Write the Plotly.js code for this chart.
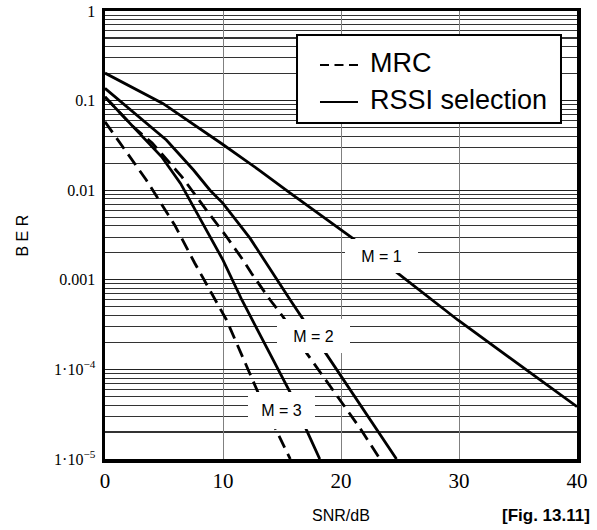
<!DOCTYPE html>
<html>
<head>
<meta charset="utf-8">
<script src="https://cdn.plot.ly/plotly-3.0.1.min.js"></script>
<style>
  html, body { margin: 0; padding: 0; background: #ffffff; }
  #chart { width: 597px; height: 530px; }
</style>
</head>
<body>
<div id="chart"></div>
<script>
// ---- data (SNR in dB, BER) ----
const snrRssi1 = [0, 4.9, 9.9, 13.0, 15.7, 18.2, 21.0, 24.8, 29.9, 40];
const berRssi1 = [0.203, 0.093, 0.033, 0.017, 0.0093, 0.0054, 0.0029, 0.00119, 3.56e-4, 3.84e-5];

const snrRssi2 = [0, 5.2, 7.5, 8.9, 10.0, 12.3, 15.7, 16.7, 18.7, 24.7];
const berRssi2 = [0.137, 0.0363, 0.0168, 0.0100, 0.00714, 0.0029, 5.95e-4, 3.75e-4, 1.52e-4, 1.0e-5];

const snrMrc2 = [0, 2.4, 4.0, 6.5, 8.7, 10.2, 11.7, 12.4, 14.0, 15.1, 17.1, 21.6, 23.3];
const berMrc2 = [0.11, 0.051, 0.0336, 0.0142, 0.00575, 0.00316, 0.00166, 0.00119, 5.95e-4, 3.85e-4, 1.51e-4, 2.22e-5, 1.0e-5];

const snrRssi3 = [0, 2.4, 4.8, 6.4, 10.0, 11.6, 15.8, 17.1, 18.2];
const berRssi3 = [0.11, 0.051, 0.0236, 0.0119, 0.00166, 5.95e-4, 5.2e-5, 2.07e-5, 1.0e-5];

const snrMrc3 = [0, 1.7, 3.5, 5.9, 7.6, 9.6, 10.3, 13.1, 15.7];
const berMrc3 = [0.058, 0.028, 0.013, 0.0041, 0.00154, 5.2e-4, 3.56e-4, 5.05e-5, 1.0e-5];

const legendNames = ['MRC', 'RSSI selection'];
const curveLabels = ['M = 1', 'M = 2', 'M = 3'];
const labelSnr = [23.43, 17.67, 14.96];
const labelLogBer = [-2.734, -3.622, -4.459];

const yTickVals = [1, 0.1, 0.01, 0.001, 1e-4, 1e-5];
const yTickText = ['1', '0.1', '0.01', '0.001', '1\u00b710<sup>\u22124</sup>', '1\u00b710<sup>\u22125</sup>'];
const xTickVals = [0, 10, 20, 30, 40];
const xTitle = 'SNR/dB';
const yTitle = 'B E R';
const figLabel = '[Fig. 13.11]';

// ---- styles ----
const LW = 2.8;
const SANS = 'Liberation Sans, Arial, sans-serif';
const SERIF = 'Liberation Serif, Times New Roman, serif';
const solid = {color: '#000', width: LW, dash: 'solid'};
const dashed = {color: '#000', width: LW, dash: '13px,7px'};

function curve(x, y, line, name) {
  return {x: x, y: y, type: 'scatter', mode: 'lines', line: line, name: name,
          showlegend: false, hoverinfo: 'skip'};
}

const traces = [
  curve(snrRssi1, berRssi1, solid, legendNames[1]),
  curve(snrRssi2, berRssi2, solid, legendNames[1]),
  curve(snrMrc2, berMrc2, dashed, legendNames[0]),
  curve(snrRssi3, berRssi3, solid, legendNames[1]),
  curve(snrMrc3, berMrc3, dashed, legendNames[0])
];

// curve labels (white boxes interrupt grid and curves, as in the reference)
const annotations = curveLabels.map((t, i) => ({
  text: t, x: labelSnr[i], y: labelLogBer[i], xref: 'x', yref: 'y',
  showarrow: false, bgcolor: '#ffffff', borderpad: 0, borderwidth: 0,
  width: i === 2 ? 67 : 73, height: i === 2 ? 37 : 34,
  align: 'center', valign: 'middle',
  font: {family: SANS, size: 16, color: '#000'}
}));

// legend (drawn as a boxed key in the upper right of the plot)
const legBox = {x0: 0.4068, x1: 0.9661, y0: 0.750, y1: 0.9464};
const legRowY = [0.8795, 0.7969];
const legLineX = [0.4555, 0.5360];
const legTextX = 0.5572;
const shapes = [
  {type: 'rect', xref: 'paper', yref: 'paper', layer: 'above',
   x0: legBox.x0, x1: legBox.x1, y0: legBox.y0, y1: legBox.y1,
   fillcolor: '#ffffff', line: {color: '#000', width: 2}},
  {type: 'line', xref: 'paper', yref: 'paper', layer: 'above',
   x0: legLineX[0], x1: legLineX[1], y0: legRowY[0], y1: legRowY[0],
   line: {color: '#000', width: 2.2, dash: '9px,5.5px'}},
  {type: 'line', xref: 'paper', yref: 'paper', layer: 'above',
   x0: legLineX[0], x1: legLineX[1], y0: legRowY[1], y1: legRowY[1],
   line: {color: '#000', width: 2.2}}
];
legendNames.forEach((n, i) => annotations.push({
  text: n, xref: 'paper', yref: 'paper', x: legTextX, y: legRowY[i],
  xanchor: 'left', yanchor: 'middle', showarrow: false, yshift: 2,
  font: {family: SANS, size: 27, color: '#000'}
}));

// axis titles and figure number
annotations.push({
  text: yTitle, xref: 'paper', yref: 'paper', x: -0.1748, y: 0.5,
  xanchor: 'center', yanchor: 'middle', textangle: -90, showarrow: false,
  font: {family: SANS, size: 16, color: '#000'}
});
annotations.push({
  text: xTitle, xref: 'paper', yref: 'paper', x: 0.4994, y: -0.1272,
  xanchor: 'center', yanchor: 'middle', showarrow: false,
  font: {family: SANS, size: 16, color: '#000'}
});
annotations.push({
  text: '<b>' + figLabel + '</b>', xref: 'paper', yref: 'paper',
  x: 1.0, y: -0.125, xanchor: 'left', yanchor: 'middle', xshift: -77,
  showarrow: false,
  font: {family: SANS, size: 17, color: '#000'}
});

const layout = {
  width: 597, height: 530,
  margin: {l: 105, r: 20, t: 11, b: 71, pad: 0},
  paper_bgcolor: '#ffffff', plot_bgcolor: '#ffffff',
  showlegend: false,
  xaxis: {
    range: [0, 40], tickvals: xTickVals, ticks: '',
    showgrid: true, gridcolor: '#808080', gridwidth: 1,
    zeroline: false, showline: true, mirror: true, linecolor: '#000', linewidth: 3.5,
    tickfont: {family: SERIF, size: 21, color: '#000'},
    ticklabelstandoff: 0
  },
  yaxis: {
    type: 'log', range: [-5, 0],
    tickmode: 'array', tickvals: yTickVals, ticktext: yTickText, ticks: '',
    showgrid: true, gridcolor: '#222', gridwidth: 1.3,
    minor: {dtick: 'D1', showgrid: true, gridcolor: '#333', gridwidth: 1.1, ticks: ''},
    zeroline: false, showline: true, mirror: true, linecolor: '#000', linewidth: 3.5,
    tickfont: {family: SERIF, size: 16, color: '#000'},
    ticklabelstandoff: 3
  },
  shapes: shapes,
  annotations: annotations
};

Plotly.newPlot('chart', traces, layout, {displayModeBar: false, staticPlot: true});
</script>
</body>
</html>
